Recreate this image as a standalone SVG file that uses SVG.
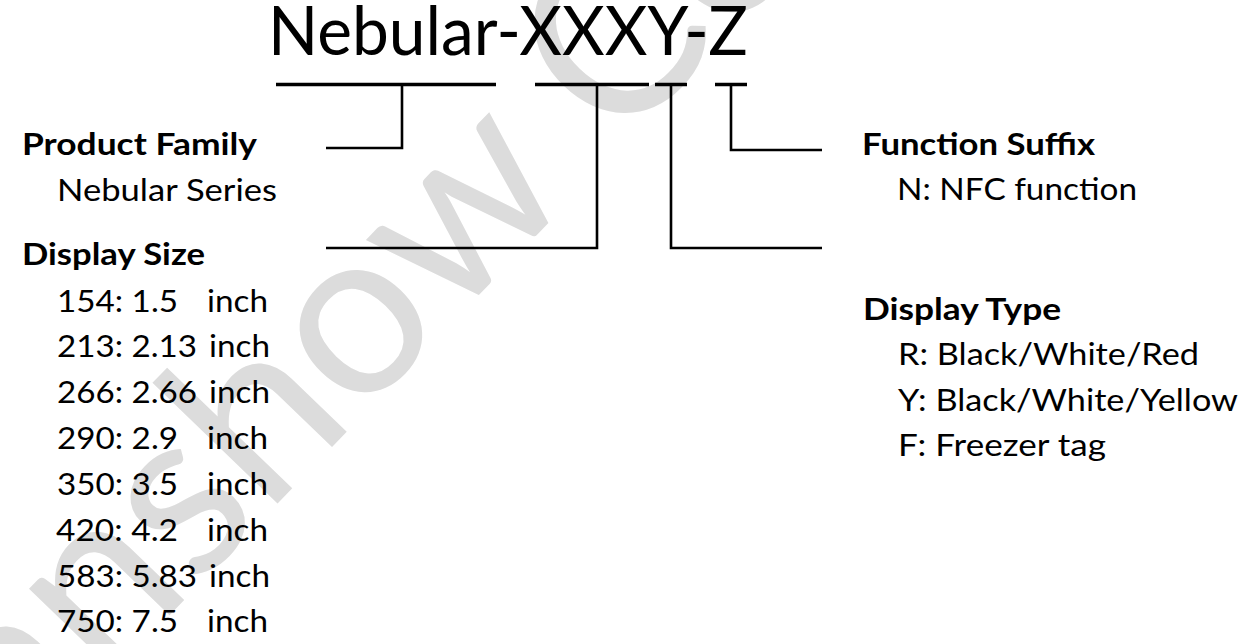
<svg xmlns="http://www.w3.org/2000/svg" width="1252" height="644" viewBox="0 0 1252 644">
  <style>
    text { font-family: Lato, "Open Sans", "Liberation Sans", sans-serif; fill: #000; }
    .title { font-size: 67px; }
    .head { font-size: 31px; font-weight: bold; }
    .item { font-size: 31px; }
    .bar { stroke: #000; stroke-width: 3.5; fill: none; }
    .conn { stroke: #000; stroke-width: 2.6; fill: none; stroke-linejoin: miter; }
    .wm { font-size: 236px; fill: #dcdcdc; font-family: Lato, "Open Sans", sans-serif; }
  </style>
  <rect width="1252" height="644" fill="#fff"/>

  <g id="watermark">
    <text class="wm" x="22" y="768" transform="rotate(-46 22 768)">anshow Co</text>
  </g>

  <g id="title">
    <text class="title" x="268" y="55" textLength="480" lengthAdjust="spacingAndGlyphs">Nebular-XXXY-Z</text>
  </g>

  <g id="connectors">
    <line class="bar" x1="276" y1="84.5" x2="496" y2="84.5"/>
    <line class="bar" x1="535" y1="84.5" x2="649" y2="84.5"/>
    <line class="bar" x1="655" y1="84.5" x2="687" y2="84.5"/>
    <line class="bar" x1="715" y1="84.5" x2="747" y2="84.5"/>
    <polyline class="conn" points="402,84 402,148 326,148"/>
    <polyline class="conn" points="597,84 597,248 326,248"/>
    <polyline class="conn" points="671,84 671,248 822,248"/>
    <polyline class="conn" points="731,84 731,150 822,150"/>
  </g>

  <g id="product-family">
    <text class="head" x="22" y="155" textLength="235" lengthAdjust="spacingAndGlyphs">Product Family</text>
    <text class="item" x="57" y="201" textLength="220" lengthAdjust="spacingAndGlyphs">Nebular Series</text>
  </g>

  <g id="display-size">
    <text class="head" x="22" y="265" textLength="183" lengthAdjust="spacingAndGlyphs">Display Size</text>
    <text class="item" x="57" y="311.5"><tspan textLength="121" lengthAdjust="spacingAndGlyphs">154: 1.5</tspan><tspan x="207" textLength="61" lengthAdjust="spacingAndGlyphs">inch</tspan></text>
    <text class="item" x="57" y="357"><tspan textLength="140" lengthAdjust="spacingAndGlyphs">213: 2.13</tspan><tspan x="209" textLength="61" lengthAdjust="spacingAndGlyphs">inch</tspan></text>
    <text class="item" x="57" y="403"><tspan textLength="140" lengthAdjust="spacingAndGlyphs">266: 2.66</tspan><tspan x="209" textLength="61" lengthAdjust="spacingAndGlyphs">inch</tspan></text>
    <text class="item" x="57" y="449"><tspan textLength="121" lengthAdjust="spacingAndGlyphs">290: 2.9</tspan><tspan x="207" textLength="61" lengthAdjust="spacingAndGlyphs">inch</tspan></text>
    <text class="item" x="57" y="495"><tspan textLength="121" lengthAdjust="spacingAndGlyphs">350: 3.5</tspan><tspan x="207" textLength="61" lengthAdjust="spacingAndGlyphs">inch</tspan></text>
    <text class="item" x="56" y="540.5"><tspan textLength="122" lengthAdjust="spacingAndGlyphs">420: 4.2</tspan><tspan x="207" textLength="61" lengthAdjust="spacingAndGlyphs">inch</tspan></text>
    <text class="item" x="57" y="586.5"><tspan textLength="140" lengthAdjust="spacingAndGlyphs">583: 5.83</tspan><tspan x="209" textLength="61" lengthAdjust="spacingAndGlyphs">inch</tspan></text>
    <text class="item" x="57" y="632"><tspan textLength="121" lengthAdjust="spacingAndGlyphs">750: 7.5</tspan><tspan x="207" textLength="61" lengthAdjust="spacingAndGlyphs">inch</tspan></text>
  </g>

  <g id="function-suffix">
    <text class="head" x="862" y="155" textLength="233" lengthAdjust="spacingAndGlyphs">Function Suffix</text>
    <text class="item" x="897" y="200" textLength="240" lengthAdjust="spacingAndGlyphs">N: NFC function</text>
  </g>

  <g id="display-type">
    <text class="head" x="863" y="320" textLength="198" lengthAdjust="spacingAndGlyphs">Display Type</text>
    <text class="item" x="898" y="365" textLength="301" lengthAdjust="spacingAndGlyphs">R: Black/White/Red</text>
    <text class="item" x="898" y="411" textLength="340" lengthAdjust="spacingAndGlyphs">Y: Black/White/Yellow</text>
    <text class="item" x="898" y="456" textLength="208" lengthAdjust="spacingAndGlyphs">F: Freezer tag</text>
  </g>
</svg>
